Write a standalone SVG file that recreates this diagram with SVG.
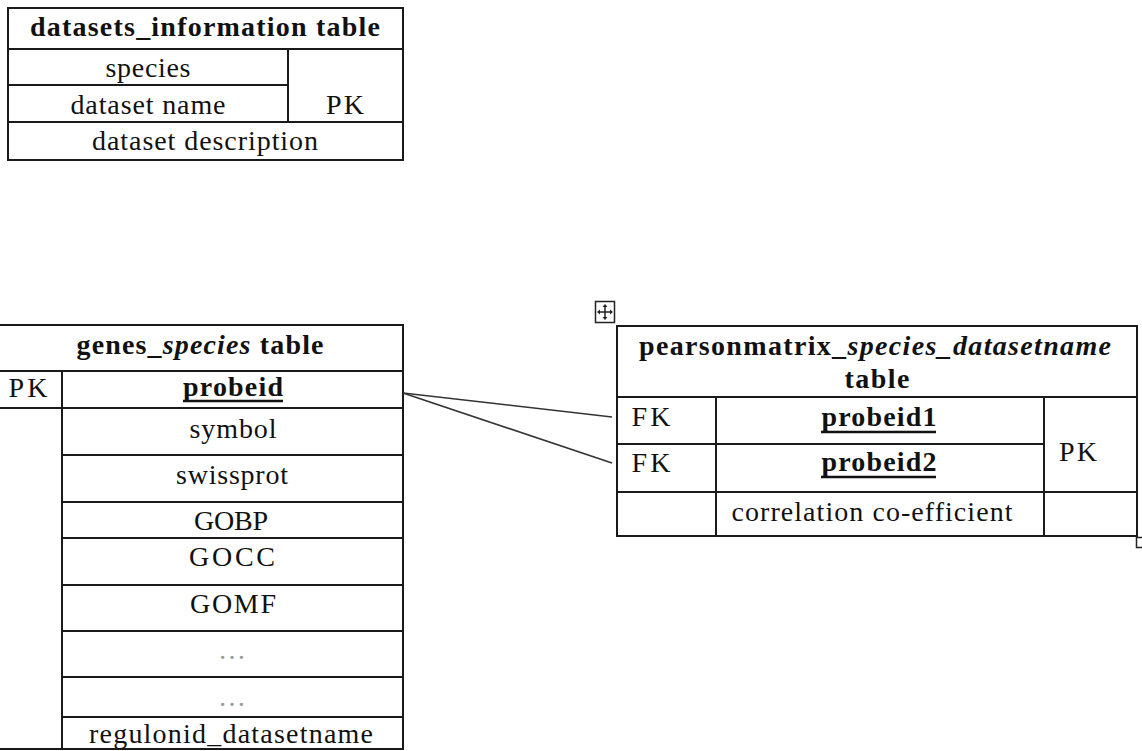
<svg xmlns="http://www.w3.org/2000/svg" width="1142" height="751" viewBox="0 0 1142 751">
  <style>
    .b { fill: none; stroke: #1a1a1a; stroke-width: 2; }
    .t { font-family: "Liberation Serif", "Times New Roman", serif; font-size: 28px; fill: #111; text-anchor: middle; }
    .h { font-weight: bold; }
    .i { font-style: italic; }
    .u { font-weight: bold; }
    .ul { stroke: #111; stroke-width: 2.5; }
    .d { fill: #9a9a9a; }
    .c { fill: none; stroke: #333; stroke-width: 1.6; }
  </style>
  <rect width="1142" height="751" fill="#ffffff"/>

  <g id="datasets_information">
    <rect class="b" x="8" y="8" width="395" height="152"/>
    <line class="b" x1="8" y1="49" x2="403" y2="49"/>
    <line class="b" x1="8" y1="85" x2="288" y2="85"/>
    <line class="b" x1="8" y1="122" x2="403" y2="122"/>
    <line class="b" x1="288" y1="49" x2="288" y2="122"/>
    <text class="t h" x="205" y="36" textLength="350" lengthAdjust="spacing">datasets_information table</text>
    <text class="t" x="148" y="77" textLength="85" lengthAdjust="spacing">species</text>
    <text class="t" x="148" y="114" textLength="155" lengthAdjust="spacing">dataset name</text>
    <text class="t" x="345" y="114" textLength="38" lengthAdjust="spacing">PK</text>
    <text class="t" x="205" y="150" textLength="226" lengthAdjust="spacing">dataset description</text>
  </g>

  <g id="genes_species">
    <rect class="b" x="-2" y="325" width="405" height="424"/>
    <line class="b" x1="-2" y1="371" x2="403" y2="371"/>
    <line class="b" x1="-2" y1="408" x2="62" y2="408"/>
    <line class="b" x1="62" y1="408" x2="403" y2="408"/>
    <line class="b" x1="62" y1="455" x2="403" y2="455"/>
    <line class="b" x1="62" y1="502" x2="403" y2="502"/>
    <line class="b" x1="62" y1="538" x2="403" y2="538"/>
    <line class="b" x1="62" y1="585" x2="403" y2="585"/>
    <line class="b" x1="62" y1="631" x2="403" y2="631"/>
    <line class="b" x1="62" y1="677" x2="403" y2="677"/>
    <line class="b" x1="62" y1="717" x2="403" y2="717"/>
    <line class="b" x1="62" y1="371" x2="62" y2="749"/>
    <text class="t h" x="200" y="354" textLength="247" lengthAdjust="spacing">genes_<tspan class="i">species</tspan> table</text>
    <text class="t" x="28" y="397" textLength="39" lengthAdjust="spacing">PK</text>
    <text class="t u" x="233" y="396" textLength="100" lengthAdjust="spacing">probeid</text>
    <line class="ul" x1="183" y1="401" x2="283" y2="401"/>
    <text class="t" x="233" y="438" textLength="87" lengthAdjust="spacing">symbol</text>
    <text class="t" x="232" y="484" textLength="112" lengthAdjust="spacing">swissprot</text>
    <text class="t" x="231" y="530" textLength="74" lengthAdjust="spacing">GOBP</text>
    <text class="t" x="232" y="566" textLength="86" lengthAdjust="spacing">GOCC</text>
    <text class="t" x="233" y="613" textLength="86" lengthAdjust="spacing">GOMF</text>
    <text class="t d" x="232" y="659">…</text>
    <text class="t d" x="232" y="706">…</text>
    <text class="t" x="231" y="743" textLength="284" lengthAdjust="spacing">regulonid_datasetname</text>
  </g>

  <g id="pearsonmatrix">
    <rect class="b" x="617" y="326" width="520" height="210"/>
    <line class="b" x1="617" y1="397" x2="1137" y2="397"/>
    <line class="b" x1="617" y1="444" x2="1044" y2="444"/>
    <line class="b" x1="617" y1="492" x2="1137" y2="492"/>
    <line class="b" x1="716" y1="397" x2="716" y2="536"/>
    <line class="b" x1="1044" y1="397" x2="1044" y2="536"/>
    <text class="t h" x="875" y="355" textLength="472" lengthAdjust="spacing">pearsonmatrix_<tspan class="i">species_datasetname</tspan></text>
    <text class="t h" x="877" y="388" textLength="65" lengthAdjust="spacing">table</text>
    <text class="t" x="651" y="426" textLength="39" lengthAdjust="spacing">FK</text>
    <text class="t u" x="879" y="426" textLength="115" lengthAdjust="spacing">probeid1</text>
    <line class="ul" x1="821" y1="432" x2="936" y2="432"/>
    <text class="t" x="651" y="472" textLength="39" lengthAdjust="spacing">FK</text>
    <text class="t u" x="879" y="471" textLength="115" lengthAdjust="spacing">probeid2</text>
    <line class="ul" x1="821" y1="477" x2="936" y2="477"/>
    <text class="t" x="1078" y="461" textLength="38" lengthAdjust="spacing">PK</text>
    <text class="t" x="872" y="521" textLength="281" lengthAdjust="spacing">correlation co-efficient</text>
    <g id="move_handle">
      <rect x="595.5" y="301.5" width="19" height="21" fill="#fff" stroke="#222" stroke-width="1.5"/>
      <line x1="605" y1="305" x2="605" y2="319" stroke="#222" stroke-width="1.5"/>
      <line x1="598" y1="312" x2="612" y2="312" stroke="#222" stroke-width="1.5"/>
      <path d="M605 304 l-2.5 3 h5 z M605 320 l-2.5 -3 h5 z M597 312 l3 -2.5 v5 z M613 312 l-3 -2.5 v5 z" fill="#222"/>
    </g>
    <rect x="1136.5" y="537.5" width="10" height="10" fill="#fff" stroke="#222" stroke-width="1.5"/>
  </g>

  <g id="connectors">
    <line class="c" x1="403" y1="393" x2="612" y2="417"/>
    <line class="c" x1="403" y1="393" x2="612" y2="463"/>
  </g>
</svg>
